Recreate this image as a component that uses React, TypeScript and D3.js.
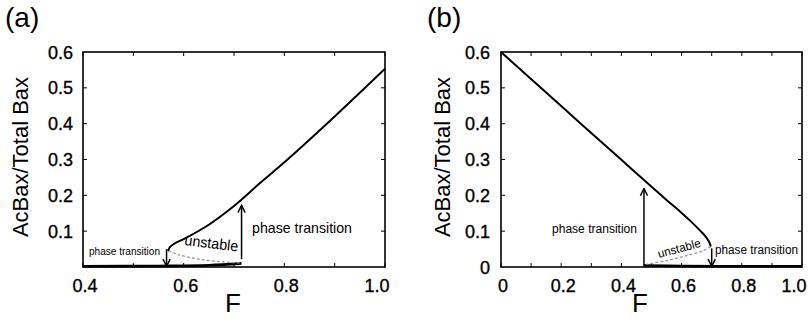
import * as d3 from "d3";

// values (F, AcBax/Total Bax)
const aUpper: [number, number][] = [
  [0.569, 0.045], [0.573, 0.056], [0.585, 0.068], [0.6, 0.078], [0.65, 0.118],
  [0.7, 0.17], [0.75, 0.232], [0.8, 0.292], [0.9, 0.42], [1.0, 0.553],
];
const aUnstable: [number, number][] = [
  [0.569, 0.045], [0.59, 0.034], [0.63, 0.022], [0.68, 0.014], [0.715, 0.011],
];
const aLower: [number, number][] = [
  [0.4, 0.002], [0.55, 0.003], [0.65, 0.005], [0.715, 0.01],
];
const bUpper: [number, number][] = [
  [0, 0.6], [0.2, 0.449], [0.4, 0.299], [0.55, 0.187], [0.6, 0.151],
  [0.63, 0.128], [0.66, 0.103], [0.68, 0.085], [0.692, 0.069], [0.697, 0.057],
];
const bUnstable: [number, number][] = [
  [0.697, 0.057], [0.67, 0.045], [0.617, 0.032], [0.55, 0.018], [0.484, 0.008],
];
const bLower: [number, number][] = [
  [0.475, 0.004], [0.6, 0.003], [0.8, 0.002], [1.0, 0.002],
];

const aArrows = [
  { f: 0.715, from: 0.022, to: 0.172 },
  { f: 0.566, from: 0.05, to: 0.002 },
];
const bArrows = [
  { f: 0.475, from: 0.003, to: 0.219 },
  { f: 0.7, from: 0.052, to: 0.002 },
];

const aXLabels = [0.4, 0.6, 0.8, 1.0];
const bXLabels = [0, 0.2, 0.4, 0.6, 0.8, 1.0];
const aYLabels = [0.1, 0.2, 0.3, 0.4, 0.5, 0.6];
const bYLabels = [0, 0.1, 0.2, 0.3, 0.4, 0.5, 0.6];

const FONT = "'Liberation Sans', Arial, sans-serif";

type Note = { text: string; x: number; y: number; size: number; len: number; rot?: number };

type PanelProps = {
  tag: string;
  tagX: number;
  xDomain: [number, number];
  xRange: [number, number];
  xLabels: number[];
  yLabels: number[];
  yLabelRight: number;
  yTitleX: number;
  fX: number;
  upper: [number, number][];
  unstable: [number, number][];
  lower: [number, number][];
  arrows: { f: number; from: number; to: number }[];
  notes: Note[];
};

function Panel(p: PanelProps) {
  const x = d3.scaleLinear().domain(p.xDomain).range(p.xRange);
  const y = d3.scaleLinear().domain([0, 0.6]).range([267, 52]);
  const line = d3
    .line<[number, number]>()
    .x((d) => x(d[0]))
    .y((d) => y(d[1]))
    .curve(d3.curveCatmullRom);
  const minor = d3.range(p.xDomain[0], p.xDomain[1] + 1e-9, 0.1);
  const yMinor = d3.range(0.1, 0.6, 0.1);
  const [x0, x1] = p.xRange;
  const fmt = (v: number) => (v === 0 ? "0" : v.toFixed(1));
  return (
    <g fontFamily={FONT}>
      <text x={p.tagX} y={27} fontSize={28}>{p.tag}</text>
      {/* ticks, pointing inward on all four sides */}
      {minor.map((v, i) => (
        <g key={"xt" + i} stroke="#000" strokeWidth={1}>
          <line x1={x(v)} x2={x(v)} y1={267} y2={263} />
          <line x1={x(v)} x2={x(v)} y1={52} y2={56} />
        </g>
      ))}
      {yMinor.map((v, i) => (
        <g key={"yt" + i} stroke="#000" strokeWidth={1}>
          <line x1={x0} x2={x0 + 4} y1={y(v)} y2={y(v)} />
          <line x1={x1} x2={x1 - 4} y1={y(v)} y2={y(v)} />
        </g>
      ))}
      <rect x={x0} y={52} width={x1 - x0} height={215} fill="none" stroke="#000" strokeWidth={1.6} />
      {p.xLabels.map((v, i) => (
        <text
          key={"xl" + v}
          x={x(v) + (i === p.xLabels.length - 1 ? -8 : 2)}
          y={292}
          fontSize={18}
          textAnchor="middle"
          stroke="#000"
          strokeWidth={0.35}
        >
          {fmt(v)}
        </text>
      ))}
      {p.yLabels.map((v) => (
        <text
          key={"yl" + v}
          x={p.yLabelRight}
          y={y(v) + 6.5}
          fontSize={18}
          textAnchor="end"
          stroke="#000"
          strokeWidth={0.35}
        >
          {fmt(v)}
        </text>
      ))}
      <text
        transform={`translate(${p.yTitleX},157) rotate(-90)`}
        fontSize={22}
        textAnchor="middle"
      >
        AcBax/Total Bax
      </text>
      <text x={p.fX} y={312} fontSize={26} textAnchor="middle">F</text>
      {/* branches */}
      <path d={line(p.lower) || ""} fill="none" stroke="#000" strokeWidth={2.6} />
      <path d={line(p.unstable) || ""} fill="none" stroke="#999" strokeWidth={1.3} strokeDasharray="3,2" />
      <path d={line(p.upper) || ""} fill="none" stroke="#000" strokeWidth={2} />
      {p.arrows.map((a, i) => (
        <line
          key={"ar" + i}
          x1={x(a.f)}
          x2={x(a.f)}
          y1={y(a.from)}
          y2={y(a.to)}
          stroke="#000"
          strokeWidth={1.5}
          markerEnd="url(#head)"
        />
      ))}
      {p.notes.map((n, i) => (
        <text
          key={"n" + i}
          transform={`translate(${n.x},${n.y}) rotate(${n.rot || 0})`}
          fontSize={n.size}
          textLength={n.len}
          lengthAdjust="spacingAndGlyphs"
        >
          {n.text}
        </text>
      ))}
    </g>
  );
}

export default function App() {
  return (
    <svg
      width={809}
      height={326}
      style={{ position: "absolute", left: 0, top: 0, background: "#fff" }}
    >
      <defs>
        <marker id="head" viewBox="0 0 10 10" refX="9" refY="5" markerWidth="6" markerHeight="6" orient="auto">
          <path d="M1,1 L9,5 L1,9" fill="none" stroke="#000" strokeWidth={1.6} />
        </marker>
      </defs>
      <rect width={809} height={326} fill="#fff" />
      <Panel
        tag="(a)"
        tagX={5}
        xDomain={[0.4, 1.0]}
        xRange={[83, 385]}
        xLabels={aXLabels}
        yLabels={aYLabels}
        yLabelRight={73}
        yTitleX={28}
        fX={233}
        upper={aUpper}
        unstable={aUnstable}
        lower={aLower}
        arrows={aArrows}
        notes={[
          { text: "phase transition", x: 252, y: 233, size: 14.5, len: 100 },
          { text: "phase transition", x: 89, y: 255, size: 10, len: 71 },
          { text: "unstable", x: 184, y: 245, size: 15, len: 54, rot: 7 },
        ]}
      />
      <Panel
        tag="(b)"
        tagX={427}
        xDomain={[0, 1.0]}
        xRange={[501, 802]}
        xLabels={bXLabels}
        yLabels={bYLabels}
        yLabelRight={490}
        yTitleX={450}
        fX={640}
        upper={bUpper}
        unstable={bUnstable}
        lower={bLower}
        arrows={bArrows}
        notes={[
          { text: "phase transition", x: 552, y: 233, size: 12.5, len: 85 },
          { text: "phase transition", x: 715, y: 254, size: 12.5, len: 83 },
          { text: "unstable", x: 659, y: 258, size: 12, len: 44, rot: -15 },
        ]}
      />
    </svg>
  );
}
